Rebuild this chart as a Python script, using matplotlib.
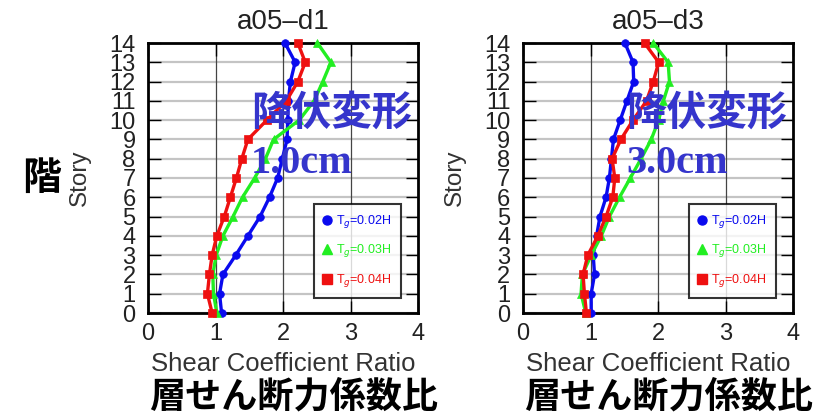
import matplotlib
matplotlib.use("Agg")
import matplotlib.pyplot as plt
from matplotlib.lines import Line2D

plt.rcParams['font.family'] = ['Liberation Sans', 'DejaVu Sans']

stories = list(range(15))

# shear coefficient ratio per story, yield displacement 1.0cm
blue_d1 = [1.09, 1.06, 1.11, 1.30, 1.48, 1.66, 1.80, 1.92, 1.99, 2.06, 2.07, 2.08, 2.11, 2.18, 2.03]
green_d1 = [1.02, 0.97, 0.96, 1.01, 1.11, 1.26, 1.40, 1.58, 1.74, 1.86, 2.24, 2.46, 2.59, 2.71, 2.51]
red_d1 = [0.95, 0.88, 0.91, 0.95, 1.02, 1.13, 1.22, 1.31, 1.39, 1.48, 1.76, 2.05, 2.22, 2.33, 2.22]

# yield displacement 3.0cm
blue_d3 = [1.01, 1.01, 1.06, 1.04, 1.09, 1.14, 1.23, 1.28, 1.31, 1.34, 1.44, 1.54, 1.64, 1.63, 1.51]
green_d3 = [0.93, 0.86, 0.88, 1.01, 1.16, 1.28, 1.43, 1.59, 1.75, 1.90, 2.01, 2.08, 2.17, 2.15, 1.93]
red_d3 = [0.94, 0.91, 0.89, 0.96, 1.11, 1.23, 1.33, 1.36, 1.32, 1.45, 1.63, 1.83, 1.93, 2.01, 1.80]

titles = ['a05–d1', 'a05–d3']
notes = ['降伏変形\n1.0cm', '降伏変形\n3.0cm']
series_labels = ['T$_g$=0.02H', 'T$_g$=0.03H', 'T$_g$=0.04H']
colors = ['#0a0aee', '#22ee22', '#ee1010']
markers = ['o', '^', 's']
xticks = [0, 1, 2, 3, 4]

W, H = 821, 416
fig = plt.figure(figsize=(W / 100, H / 100), dpi=100)

ax_left_px = [148, 523]
ax_w_px = 270
ax_top_px, ax_bot_px = 43, 313

panels = [(blue_d1, green_d1, red_d1), (blue_d3, green_d3, red_d3)]

for i, data in enumerate(panels):
    x0 = ax_left_px[i]
    ax = fig.add_axes([x0 / W, 1 - ax_bot_px / H, ax_w_px / W, (ax_bot_px - ax_top_px) / H])

    for s in stories:
        ax.axhline(s, color='#c4c4c4', lw=1.6, zorder=1)
    for xv in [1, 2, 3]:
        ax.axvline(xv, color='#444444', lw=0.9, zorder=1)

    for vals, c, m, lab in zip(data, colors, markers, series_labels):
        ax.plot(vals, stories, color=c, marker=m, ms=5.5, mew=0.5, lw=2.4,
                markeredgecolor=c, label=lab, zorder=3, clip_on=False)

    ax.set_xlim(0, 4)
    ax.set_ylim(0, 14)
    ax.set_xticks(xticks)
    ax.set_yticks(stories)
    ax.tick_params(axis='both', direction='in', length=9, width=1,
                   labelsize=17, labelcolor='#222222', top=True, right=True)
    ax.tick_params(axis='y', pad=9)
    ax.tick_params(axis='x', pad=7)
    for sp in ax.spines.values():
        sp.set_linewidth(2)

    handles = [Line2D([], [], ls='none', marker=m, color=c, ms=6.5)
               for c, m in zip(colors, markers)]
    leg = ax.legend(handles, series_labels, loc='lower right',
                    bbox_to_anchor=(0.945, 0.045), frameon=True, fancybox=False,
                    edgecolor='black', fontsize=9, handlelength=0.6,
                    handletextpad=0.4, labelspacing=1.0, borderpad=0.75,
                    borderaxespad=0.2, labelcolor=colors)
    leg.get_frame().set_linewidth(1.5)
    leg.set_zorder(5)

    cx = x0 + ax_w_px / 2
    fig.text(cx / W, 1 - 22 / H, titles[i], ha='center', va='center',
             fontsize=20, color='#222222')
    fig.text(cx / W, 1 - 364 / H, 'Shear Coefficient Ratio', ha='center',
             va='center', fontsize=18.5, color='#333333')
    fig.text((cx + 11) / W, 1 - 397 / H, '層せん断力係数比', ha='center', va='center',
             fontsize=26, fontweight='bold', color='black',
             family=['Noto Sans CJK JP', 'DejaVu Sans'])
    fig.text((x0 - 68) / W, 1 - 178 / H, 'Story', ha='center', va='center',
             rotation=90, fontsize=17.5, color='#333333')

    lines = notes[i].split('\n')
    fig.text((x0 + 103) / W, 1 - 113 / H, lines[0], ha='left', va='center',
             fontsize=29, fontweight='bold', color='#3535cc',
             family=['Noto Sans CJK JP', 'DejaVu Sans'])
    fig.text((x0 + 103) / W, 1 - 163 / H, lines[1], ha='left', va='center',
             fontsize=29, fontweight='bold', color='#3535cc',
             family=['Liberation Serif', 'DejaVu Serif'])

fig.text(42 / W, 1 - 178 / H, '階', ha='center', va='center', fontsize=28,
         fontweight='bold', color='black', family=['Noto Sans CJK JP', 'DejaVu Sans'])

fig.savefig('out.png', dpi=100)
